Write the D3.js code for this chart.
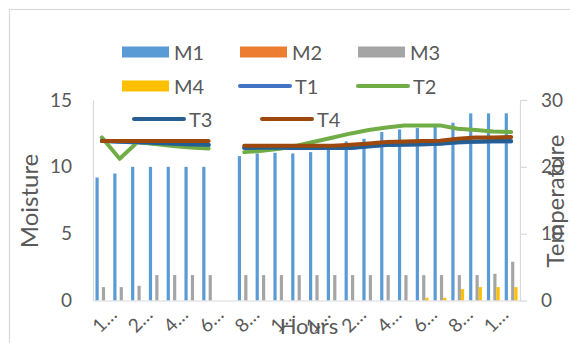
<!DOCTYPE html>
<html>
<head>
<meta charset="utf-8">
<script src="https://cdn.jsdelivr.net/npm/d3@7"></script>
<style>
  html, body { margin: 0; padding: 0; background: #fff; }
  svg text { font-family: Lato, "Open Sans", sans-serif; fill: #595959; }
</style>
</head>
<body>
<svg id="chart" width="570" height="343"></svg>
<script>
// Hourly readings: moisture probes (bars, left axis) and temperature probes (lines, right axis)
const hours = ["12:00 AM", "1:00 AM", "2:00 AM", "3:00 AM", "4:00 AM", "5:00 AM",
  "6:00 AM", "7:00 AM", "8:00 AM", "9:00 AM", "10:00 AM", "11:00 AM",
  "12:00 PM", "1:00 PM", "2:00 PM", "3:00 PM", "4:00 PM", "5:00 PM",
  "6:00 PM", "7:00 PM", "8:00 PM", "9:00 PM", "10:00 PM", "11:00 PM"];

const moistureNames = ["M1", "M2", "M3", "M4"];
const tempNames = ["T1", "T2", "T3", "T4"];

const m1 = [9.2, 9.5, 10, 10, 10, 10, 10, null, 10.8, 11.0, 11.05, 11.0, 11.1, 11.4, 11.9, 12.1, 12.6, 12.8, 12.9, 13.0, 13.3, 14.0, 14.0, 14.0];
const m2 = [0, 0, 0, 0, 0, 0, 0, null, 0, 0, 0, 0, 0, 0, 0, 0, 0, 0, 0, 0, 0, 0, 0, 0];
const m3 = [1.0, 1.0, 1.1, 1.9, 1.9, 1.9, 1.9, null, 1.9, 1.9, 1.9, 1.9, 1.9, 1.9, 1.9, 1.9, 1.9, 1.9, 1.9, 1.9, 1.9, 1.9, 2.0, 2.9];
const m4 = [0, 0, 0, 0, 0, 0, 0, null, 0, 0, 0, 0, 0, 0, 0, 0, 0, 0, 0.2, 0.2, 0.85, 1.0, 1.0, 1.0];

const t1 = [23.85, 23.75, 23.65, 23.5, 23.4, 23.3, 23.25, null, 22.8, 22.8, 22.8, 22.8, 22.8, 22.8, 22.8, 23.05, 23.25, 23.3, 23.35, 23.45, 23.65, 23.75, 23.8, 23.8];
const t2 = [24.4, 21.2, 23.7, 23.4, 23.1, 22.9, 22.75, null, 22.2, 22.4, 22.7, 23.2, 23.8, 24.4, 25.0, 25.5, 25.9, 26.2, 26.2, 26.2, 25.7, 25.5, 25.3, 25.2];
const t3 = [23.9, 23.8, 23.7, 23.55, 23.45, 23.35, 23.3, null, 22.85, 22.85, 22.85, 22.85, 22.85, 22.85, 22.85, 23.1, 23.3, 23.35, 23.4, 23.5, 23.7, 23.8, 23.85, 23.85];
const t4 = [23.85, 23.85, 23.85, 23.85, 23.85, 23.85, 23.85, null, 23.15, 23.15, 23.15, 23.15, 23.15, 23.15, 23.3, 23.5, 23.7, 23.8, 23.85, 23.9, 24.2, 24.4, 24.4, 24.45];

const moistureTicks = [0, 5, 10, 15];
const tempTicks = [0, 10, 20, 30];

const moistureValues = [m1, m2, m3, m4];
const tempValues = [t1, t2, t3, t4];

const colors = {
  M1: "#5B9BD5", M2: "#ED7D31", M3: "#A5A5A5", M4: "#FFC000",
  T1: "#4472C4", T2: "#70AD47", T3: "#255E91", T4: "#9E480E"
};

const svg = d3.select("#chart");
const plot = { left: 93, right: 520, top: 100, bottom: 300.5 };
const axisColor = "#d9d9d9";

// chart-area frame
svg.append("rect")
  .attr("x", 9.5).attr("y", 9.5).attr("width", 620).attr("height", 400)
  .attr("fill", "#fff").attr("stroke", axisColor).attr("stroke-width", 1.2);

const x = d3.scaleBand().domain(hours).range([plot.left, plot.right]).padding(0);
const xs = d3.scaleBand().domain(moistureNames).range([2.5, x.bandwidth() - 2.5]).padding(0);
const yL = d3.scaleLinear().domain([0, 15]).range([plot.bottom, plot.top]);
const yR = d3.scaleLinear().domain([0, 30]).range([plot.bottom, plot.top]);

// left axis
const gL = svg.append("g").attr("transform", `translate(${plot.left},0)`)
  .call(d3.axisLeft(yL).tickValues(moistureTicks).tickSize(0).tickSizeOuter(0).tickPadding(21));
gL.select(".domain").attr("stroke", axisColor).attr("stroke-width", 1.2);
gL.selectAll("text").attr("font-size", 19).attr("font-family", null).attr("fill", "#595959");

// right axis
const gR = svg.append("g").attr("transform", `translate(${plot.right},0)`)
  .call(d3.axisRight(yR).tickValues(tempTicks).tickSize(7).tickSizeOuter(0).tickPadding(14));
gR.select(".domain").attr("stroke", axisColor).attr("stroke-width", 1.2);
gR.selectAll("line").attr("stroke", axisColor).attr("stroke-width", 1.2);
gR.selectAll("text").attr("font-size", 19).attr("font-family", null).attr("fill", "#595959");

// bars
const barRows = [];
hours.forEach((h, i) => {
  moistureNames.forEach((name, k) => {
    const v = moistureValues[k][i];
    if (v != null) barRows.push({ hour: h, name, value: v });
  });
});
svg.append("g").selectAll("rect").data(barRows).join("rect")
  .attr("x", d => x(d.hour) + xs(d.name))
  .attr("width", xs.bandwidth())
  .attr("y", d => yL(d.value))
  .attr("height", d => yL(0) - yL(d.value))
  .attr("fill", d => colors[d.name]);

// bottom axis
const labelHours = hours.filter((d, i) => i % 2 === 0);
const gB = svg.append("g").attr("transform", `translate(0,${plot.bottom})`)
  .call(d3.axisBottom(x).tickValues(labelHours).tickSize(0).tickSizeOuter(0)
    .tickFormat(d => d.charAt(0) + "\u2026"));
gB.select(".domain").attr("stroke", axisColor).attr("stroke-width", 1.2);
gB.selectAll("text")
  .attr("font-size", 19).attr("font-family", null).attr("fill", "#595959")
  .attr("x", 0).attr("y", 0).attr("dy", null)
  .attr("text-anchor", "end").attr("dominant-baseline", "central")
  .attr("transform", "translate(11,10) rotate(-45)");

// temperature lines
const line = d3.line()
  .defined(d => d.v != null)
  .x(d => x(d.hour) + x.bandwidth() / 2)
  .y(d => yR(d.v));
tempNames.forEach((name, k) => {
  const pts = hours.map((h, i) => ({ hour: h, v: tempValues[k][i] }));
  svg.append("path").datum(pts)
    .attr("d", line)
    .attr("fill", "none")
    .attr("stroke", colors[name])
    .attr("stroke-width", 4)
    .attr("stroke-linejoin", "round")
    .attr("stroke-linecap", "round");
});

// axis titles
svg.append("text").text("Moisture")
  .attr("transform", "translate(38,201) rotate(-90)")
  .attr("text-anchor", "middle").attr("font-size", 24);
svg.append("text").text("Temperature")
  .attr("transform", "translate(564,201) rotate(-90)")
  .attr("text-anchor", "middle").attr("font-size", 24);
svg.append("text").text("Hours")
  .attr("x", 309).attr("y", 334)
  .attr("text-anchor", "middle").attr("font-size", 22);

// legend
const legendItems = [
  { name: "M1", kind: "bar", x: 122, y: 52 },
  { name: "M2", kind: "bar", x: 240, y: 52 },
  { name: "M3", kind: "bar", x: 358, y: 52 },
  { name: "M4", kind: "bar", x: 122, y: 86 },
  { name: "T1", kind: "line", x: 239, y: 86 },
  { name: "T2", kind: "line", x: 357, y: 86 },
  { name: "T3", kind: "line", x: 133, y: 119 },
  { name: "T4", kind: "line", x: 261, y: 119 }
];
const lg = svg.append("g");
legendItems.forEach(it => {
  if (it.kind === "bar") {
    lg.append("rect").attr("x", it.x).attr("y", it.y - 5.5)
      .attr("width", 47).attr("height", 11).attr("fill", colors[it.name]);
  } else {
    lg.append("line").attr("x1", it.x + 1).attr("x2", it.x + 51)
      .attr("y1", it.y).attr("y2", it.y)
      .attr("stroke", colors[it.name]).attr("stroke-width", 4)
      .attr("stroke-linecap", "round");
  }
  lg.append("text").text(it.name)
    .attr("x", it.x + (it.kind === "bar" ? 52 : 56)).attr("y", it.y)
    .attr("dominant-baseline", "central")
    .attr("font-size", 20);
});
</script>
</body>
</html>
